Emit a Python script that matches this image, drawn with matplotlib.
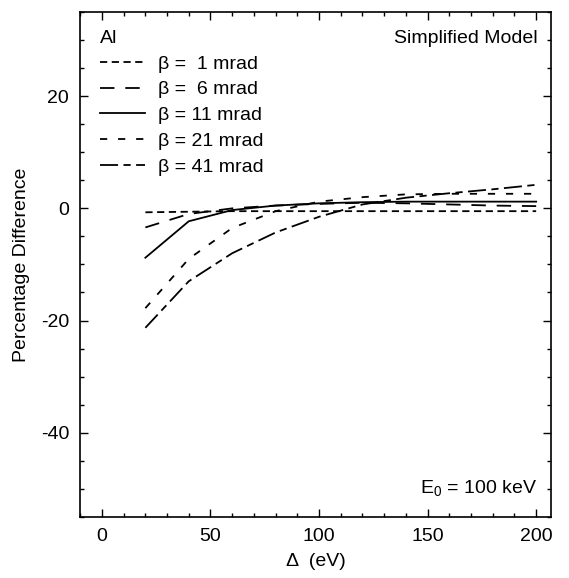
import numpy as np
import matplotlib
matplotlib.use("Agg")
import matplotlib.pyplot as plt
from matplotlib.ticker import MultipleLocator

plt.rcParams['font.family'] = ['Liberation Sans', 'DejaVu Sans']
plt.rcParams['mathtext.fontset'] = 'custom'
plt.rcParams['mathtext.rm'] = 'Liberation Sans'
plt.rcParams['axes.unicode_minus'] = False

# energy window (eV)
delta = [20, 40, 60, 80, 100, 120, 140, 160, 180, 200]

# percentage difference for each collection angle
b1 = [-0.7, -0.6, -0.5, -0.5, -0.5, -0.5, -0.5, -0.5, -0.5, -0.5]
b6 = [-3.4, -1.0, 0.0, 0.5, 0.8, 1.0, 0.9, 0.7, 0.5, 0.4]
b11 = [-8.8, -2.3, -0.3, 0.5, 0.9, 1.1, 1.2, 1.2, 1.2, 1.2]
b21 = [-17.8, -9.0, -3.5, -0.5, 1.2, 2.0, 2.5, 2.6, 2.6, 2.6]
b41 = [-21.3, -13.0, -8.0, -4.3, -1.5, 0.7, 1.9, 2.7, 3.4, 4.2]

labels = ["\u03b2 =  1 mrad", "\u03b2 =  6 mrad", "\u03b2 = 11 mrad",
          "\u03b2 = 21 mrad", "\u03b2 = 41 mrad"]

fs = 14

fig = plt.figure(figsize=(5.69, 5.78), dpi=100)
ax = fig.add_axes([0.141, 0.106, 0.828, 0.873])

lw = 1.3
ax.plot(delta, b1, color="black", lw=lw, dashes=(4, 2.5), label=labels[0])
ax.plot(delta, b6, color="black", lw=lw, dashes=(8, 6), label=labels[1])
ax.plot(delta, b11, color="black", lw=lw, label=labels[2])
ax.plot(delta, b21, color="black", lw=lw, dashes=(4, 6), label=labels[3])
ax.plot(delta, b41, color="black", lw=lw, dashes=(10, 3, 4, 3), label=labels[4])

ax.set_xlim(-10, 207)
ax.set_ylim(-55, 35)
ax.xaxis.set_major_locator(MultipleLocator(50))
ax.xaxis.set_minor_locator(MultipleLocator(10))
ax.yaxis.set_major_locator(MultipleLocator(20))
ax.yaxis.set_minor_locator(MultipleLocator(5))
ax.tick_params(which="both", direction="in", top=True, right=True,
               labelsize=fs, width=1)
ax.tick_params(which="major", length=6, pad=8)
ax.tick_params(which="minor", length=3)
for s in ax.spines.values():
    s.set_linewidth(1.2)

ax.set_xlabel("\u0394  (eV)", fontsize=fs, labelpad=6)
ax.set_ylabel("Percentage Difference", fontsize=fs, labelpad=8)

ax.text(0.042, 0.965, "Al", transform=ax.transAxes, fontsize=fs,
        va="top", ha="left")
ax.text(0.97, 0.965, "Simplified Model", transform=ax.transAxes,
        fontsize=fs, va="top", ha="right")
ax.text(0.97, 0.035, "E$_0$ = 100 keV", transform=ax.transAxes,
        fontsize=fs, va="bottom", ha="right")

ax.legend(loc="upper left", bbox_to_anchor=(0.042, 0.915), frameon=False,
          fontsize=fs, handlelength=2.3, handletextpad=0.7,
          labelspacing=0.42, borderaxespad=0, borderpad=0)

plt.savefig("out.png", dpi=100)
